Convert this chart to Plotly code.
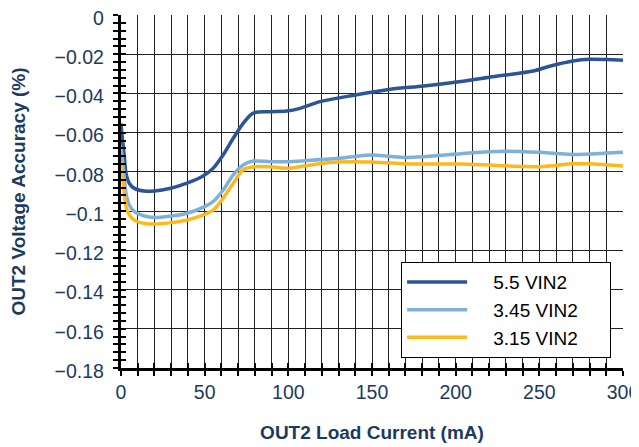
import plotly.graph_objects as go

# Load current (mA) sample points for each series
x_55 = [0, 0.7, 2, 3, 5, 8, 14, 20, 29, 39, 49, 55, 61, 67, 73, 79, 89, 99, 107, 119, 140, 161, 181, 202, 222, 247, 255, 270, 280, 300]
y_55 = [-0.0553, -0.062, -0.0723, -0.0807, -0.0859, -0.0884, -0.0898, -0.0897, -0.0885, -0.0859, -0.0821, -0.0782, -0.0714, -0.063, -0.0553, -0.0500, -0.0493, -0.0490, -0.0476, -0.0442, -0.0408, -0.0379, -0.0362, -0.0340, -0.0315, -0.0284, -0.0264, -0.0235, -0.0226, -0.0231]

x_345 = [0, 1.5, 3, 5, 8, 14, 20, 29, 39, 49, 55, 61, 67, 73, 79, 89, 99, 110, 130, 140, 150, 160, 170, 180, 190, 203, 210, 220, 230, 240, 250, 260, 270, 280, 290, 300]
y_345 = [-0.0672, -0.079, -0.091, -0.097, -0.1003, -0.1025, -0.1032, -0.1026, -0.1012, -0.0981, -0.0952, -0.0893, -0.0816, -0.0765, -0.0745, -0.0748, -0.0748, -0.0743, -0.0731, -0.0721, -0.0714, -0.0720, -0.0726, -0.0723, -0.0716, -0.0708, -0.0702, -0.0697, -0.0695, -0.0697, -0.0700, -0.0706, -0.0711, -0.0709, -0.0704, -0.0700]

x_315 = [0, 2, 3, 5, 8, 14, 20, 29, 39, 49, 55, 61, 67, 73, 79, 89, 99, 110, 120, 130, 140, 150, 160, 170, 180, 190, 203, 210, 220, 230, 240, 250, 260, 270, 280, 290, 300]
y_315 = [-0.0748, -0.091, -0.0978, -0.102, -0.1046, -0.1063, -0.1066, -0.1060, -0.1046, -0.1020, -0.0995, -0.0935, -0.0859, -0.0790, -0.0774, -0.0774, -0.0782, -0.0769, -0.0757, -0.0750, -0.0748, -0.0750, -0.0753, -0.0759, -0.0760, -0.0760, -0.0760, -0.0762, -0.0765, -0.0769, -0.0772, -0.0774, -0.0767, -0.0759, -0.0759, -0.0764, -0.0770]

series_names = ["5.5 VIN2", "3.45 VIN2", "3.15 VIN2"]
series_colors = ["#2c5597", "#7eb1da", "#ffb81c"]

x_ticks = [0, 50, 100, 150, 200, 250, 300]
y_ticks = [0, -0.02, -0.04, -0.06, -0.08, -0.1, -0.12, -0.14, -0.16, -0.18]
y_tick_text = ["0", "\u22120.02", "\u22120.04", "\u22120.06", "\u22120.08", "\u22120.1",
               "\u22120.12", "\u22120.14", "\u22120.16", "\u22120.18"]

FONT = "Liberation Sans, Arial, sans-serif"
NAVY = "#1c3a60"
PAD = "\u00a0"

fig = go.Figure()
for xs, ys, name, col in zip([x_55, x_345, x_315], [y_55, y_345, y_315], series_names, series_colors):
    fig.add_trace(go.Scatter(x=xs, y=ys, mode="lines", name=PAD * 4 + name + PAD * 5,
                             line=dict(color=col, width=3.5, shape="spline", smoothing=0.9)))

# invisible trace for overlay axes (inside half of crossing ticks)
fig.add_trace(go.Scatter(x=[0], y=[0], xaxis="x2", yaxis="y2", mode="markers",
                         marker=dict(opacity=0), showlegend=False, hoverinfo="skip"))

axis_common = dict(showline=True, linecolor="black", linewidth=2.5, zeroline=False, automargin=False,
                   ticks="outside", ticklen=5, tickwidth=1.5, tickcolor="black",
                   ticklabeloverflow="allow")

# page body has an 8px margin, so the figure is sized 8px smaller and offset accordingly
fig.update_layout(
    width=631, height=439,
    margin=dict(l=113, r=16, t=7, b=79, autoexpand=False),
    plot_bgcolor="white", paper_bgcolor="white",
    font=dict(family=FONT, size=19, color=NAVY),
    xaxis=dict(range=[0, 300], tickvals=x_ticks, ticktext=[str(v) for v in x_ticks],
               showgrid=True, gridcolor="#222222", gridwidth=1,
               minor=dict(dtick=10, tick0=0, showgrid=True, gridcolor="#222222", gridwidth=1,
                          ticks="outside", ticklen=5, tickwidth=1.5, tickcolor="black"),
               title=dict(text="<b>OUT2 Load Current (mA)</b>", font=dict(size=19, color=NAVY), standoff=24),
               tickfont=dict(size=19.5, color=NAVY),
               **axis_common),
    yaxis=dict(range=[-0.18, 0], tickvals=y_ticks, ticktext=[t + PAD for t in y_tick_text],
               showgrid=True, gridcolor="#222222", gridwidth=1,
               minor=dict(dtick=0.004, tick0=0, showgrid=False,
                          ticks="outside", ticklen=5, tickwidth=1.5, tickcolor="black"),
               title=dict(text="<b>OUT2 Voltage Accuracy (%)</b>", font=dict(size=19, color=NAVY), standoff=30),
               tickfont=dict(size=19.5, color=NAVY), ticklabelshift=3,
               **axis_common),
    xaxis2=dict(overlaying="x", matches="x", range=[0, 300], showgrid=False, zeroline=False,
                showticklabels=False, ticks="inside", ticklen=5, tickwidth=1.5, tickcolor="black",
                tickvals=x_ticks, side="bottom", automargin=False,
                minor=dict(dtick=10, tick0=0, ticks="inside", ticklen=5, tickwidth=1.5, tickcolor="black")),
    yaxis2=dict(overlaying="y", matches="y", range=[-0.18, 0], showgrid=False, zeroline=False,
                showticklabels=False, ticks="inside", ticklen=5, tickwidth=1.5, tickcolor="black",
                tickvals=y_ticks, side="left", automargin=False,
                minor=dict(dtick=0.004, tick0=0, ticks="inside", ticklen=5, tickwidth=1.5, tickcolor="black")),
    legend=dict(x=0.558, y=0.30, xanchor="left", yanchor="top",
                bgcolor="white", bordercolor="black", borderwidth=1,
                font=dict(size=19, color="black", family=FONT),
                itemwidth=60, tracegroupgap=0),
    showlegend=True,
)

fig.write_html("out.html")
